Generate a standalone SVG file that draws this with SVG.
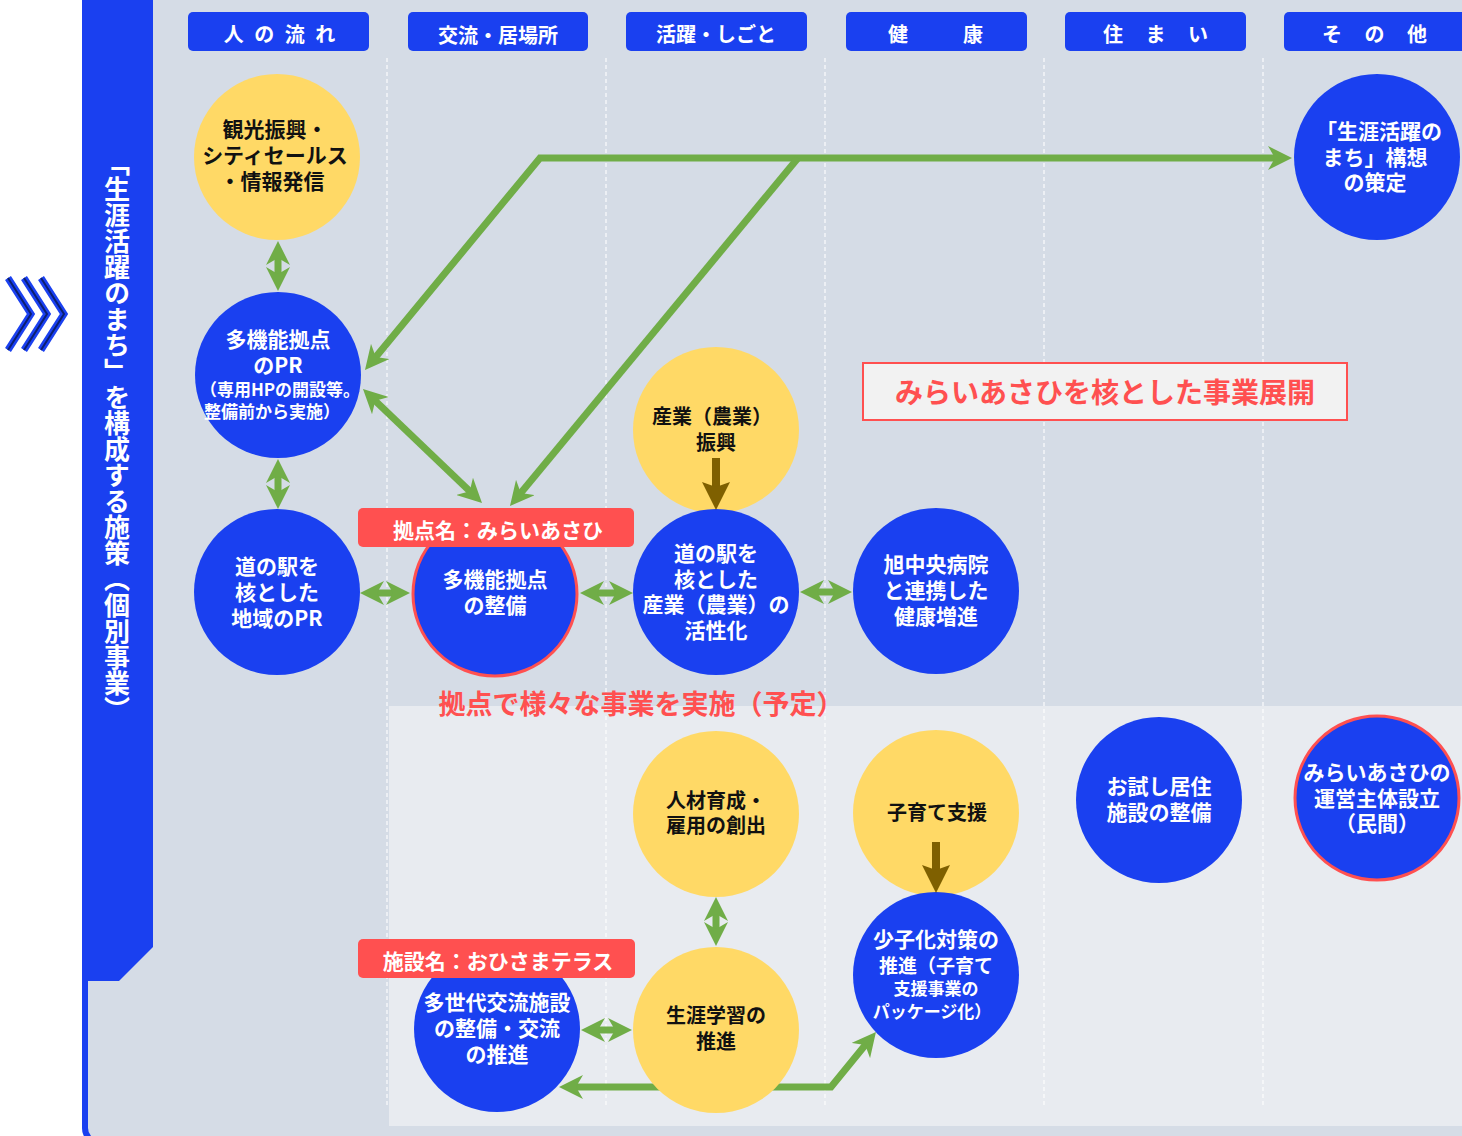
<svg xmlns="http://www.w3.org/2000/svg" width="1462" height="1136" viewBox="0 0 1462 1136">
<style>
.t{font-family:'Noto Sans CJK JP','Noto Sans',sans-serif;font-weight:700;text-anchor:middle;dominant-baseline:central}
.w{fill:#ffffff}
.k{fill:#111111}
.r{fill:#FF5050}
.blue{fill:#1A40F0}
.yel{fill:#FFD966}
.hdr{fill:#1A40F0}
.div{stroke:#ffffff;stroke-width:1.2;stroke-dasharray:4 3;fill:none;opacity:0.9}
.g{stroke:#70AD47;stroke-width:7;fill:none;stroke-linejoin:miter}
.gd{stroke:#70AD47;stroke-width:7;fill:none;marker-start:url(#ga);marker-end:url(#ga)}
.br{stroke:#7F6000;stroke-width:8;fill:none;marker-end:url(#ba)}
</style>
<defs>
<marker id="ga" viewBox="0 0 24 24" refX="10" refY="12" markerWidth="24" markerHeight="24" markerUnits="userSpaceOnUse" orient="auto-start-reverse">
<path d="M0,0 L24,12 L0,24 L7,12 z" fill="#70AD47"/>
</marker>
<marker id="ba" viewBox="0 0 28 28" refX="12" refY="14" markerWidth="28" markerHeight="28" markerUnits="userSpaceOnUse" orient="auto">
<path d="M0,0 L28,14 L0,28 L5,14 z" fill="#7F6000"/>
</marker>
</defs>
<rect x="0" y="0" width="1462" height="1136" fill="#ffffff"/>
<!-- frame -->
<rect x="82" y="-30" width="1420" height="1176" rx="18" fill="#1A40F0"/>
<rect x="88" y="-30" width="1420" height="1170" rx="12" fill="#D5DCE6"/>
<path d="M82,0 L153,0 L153,947 L119,981 L82,981 z" fill="#1A40F0"/>
<text class="t w" x="117" y="150" font-size="26" writing-mode="vertical-rl" style="text-anchor:start;dominant-baseline:central">「生涯活躍のまち」を構成する施策（個別事業）</text>
<!-- chevrons -->
<g id="chevrons" fill="none" stroke-linejoin="miter">
<polyline points="8,278 31,314 8,350" stroke="#1A40F0" stroke-width="7"/>
<polyline points="24,278 47,314 24,350" stroke="#1A40F0" stroke-width="7"/>
<polyline points="41,278 64,314 41,350" stroke="#1A40F0" stroke-width="7"/>
<polyline points="8,278 31,314 8,350" stroke="#0B1F70" stroke-width="2"/>
<polyline points="24,278 47,314 24,350" stroke="#0B1F70" stroke-width="2"/>
<polyline points="41,278 64,314 41,350" stroke="#0B1F70" stroke-width="2"/>
</g>
<!-- lower panel -->
<rect x="389" y="706" width="1080" height="420" fill="#E8EBF0"/>
<!-- dividers -->
<g id="dividers">
<line class="div" x1="387" y1="58" x2="387" y2="1108"/>
<line class="div" x1="606" y1="58" x2="606" y2="1108"/>
<line class="div" x1="825" y1="58" x2="825" y2="1108"/>
<line class="div" x1="1044" y1="58" x2="1044" y2="1108"/>
<line class="div" x1="1263" y1="58" x2="1263" y2="1108"/>
</g>
<!-- headers -->
<g id="headers">
<rect class="hdr" x="188" y="12" width="181" height="39" rx="5"/>
<rect class="hdr" x="408" y="12" width="180" height="39" rx="5"/>
<rect class="hdr" x="626" y="12" width="181" height="39" rx="5"/>
<rect class="hdr" x="846" y="12" width="181" height="39" rx="5"/>
<rect class="hdr" x="1065" y="12" width="181" height="39" rx="5"/>
<rect class="hdr" x="1284" y="12" width="190" height="39" rx="5"/>
<text class="t w" x="281" y="33" font-size="20" letter-spacing="3">人 の 流 れ</text>
<text class="t w" x="498" y="34" font-size="20">交流・居場所</text>
<text class="t w" x="716" y="33" font-size="20">活躍・しごと</text>
<text class="t w" x="938" y="33" font-size="20" letter-spacing="5">健　　康</text>
<text class="t w" x="1160" y="33" font-size="20" letter-spacing="9">住 ま い</text>
<text class="t w" x="1379" y="33" font-size="20" letter-spacing="9">そ の 他</text>
</g>
<!-- connectors -->
<g id="connectors">
<path class="gd" d="M373.9,359.2 L540,158 L1278,158"/>
<path class="g" d="M798,158 L518.9,495.2" marker-end="url(#ga)"/>
<line class="gd" x1="373.1" y1="398.7" x2="471.9" y2="493.3"/>
<line class="gd" x1="278" y1="255" x2="278" y2="277"/>
<line class="gd" x1="278" y1="473" x2="278" y2="495"/>
<line class="gd" x1="374" y1="593" x2="396" y2="593"/>
<line class="gd" x1="594" y1="593" x2="619" y2="593"/>
<line class="gd" x1="814" y1="592" x2="838" y2="592"/>
<line class="gd" x1="716" y1="911" x2="716" y2="932"/>
<line class="gd" x1="595" y1="1030" x2="618" y2="1030"/>
<path class="gd" d="M573,1087 L831,1087 L867.1,1042.8"/>
</g>
<!-- nodes -->
<g id="n-kanko"><circle class="yel" cx="277" cy="157" r="83"/>
<text class="t k" x="275" y="128" font-size="21">観光振興・</text>
<text class="t k" x="275" y="154" font-size="21">シティセールス</text>
<text class="t k" x="272" y="180" font-size="21">・情報発信</text></g>
<g id="n-pr"><circle class="blue" cx="278" cy="375" r="83"/>
<text class="t w" x="278" y="338" font-size="21">多機能拠点</text>
<text class="t w" x="278" y="364" font-size="21">のPR</text>
<text class="t w" x="280" y="388" font-size="17">（専用HPの開設等。</text>
<text class="t w" x="272" y="410" font-size="17">整備前から実施）</text></g>
<g id="n-michi-pr"><circle class="blue" cx="277" cy="592" r="83"/>
<text class="t w" x="277" y="565" font-size="21">道の駅を</text>
<text class="t w" x="277" y="591" font-size="21">核とした</text>
<text class="t w" x="277" y="617" font-size="21">地域のPR</text></g>
<g id="n-kyoten"><circle class="blue" cx="495" cy="594" r="82" stroke="#FF5050" stroke-width="3"/>
<text class="t w" x="495" y="578" font-size="21">多機能拠点</text>
<text class="t w" x="495" y="604" font-size="21">の整備</text></g>
<g id="l-kyoten"><rect x="358" y="508" width="276" height="39" rx="5" fill="#FF5050"/>
<text class="t w" x="498" y="529" font-size="21">拠点名：みらいあさひ</text></g>
<g id="n-sangyo"><circle class="yel" cx="716" cy="430" r="83"/>
<text class="t k" x="712" y="415" font-size="20">産業（農業）</text>
<text class="t k" x="716" y="441" font-size="20">振興</text></g>
<g id="n-michi-sangyo"><circle class="blue" cx="716" cy="592" r="83"/>
<text class="t w" x="716" y="552" font-size="21">道の駅を</text>
<text class="t w" x="716" y="578" font-size="21">核とした</text>
<text class="t w" x="716" y="603" font-size="21">産業（農業）の</text>
<text class="t w" x="716" y="629" font-size="21">活性化</text></g>
<g id="n-byoin"><circle class="blue" cx="936" cy="591" r="83"/>
<text class="t w" x="936" y="563" font-size="21">旭中央病院</text>
<text class="t w" x="936" y="589" font-size="21">と連携した</text>
<text class="t w" x="936" y="615" font-size="21">健康増進</text></g>
<g id="n-koso"><circle class="blue" cx="1377" cy="157" r="83"/>
<text class="t w" x="1379" y="130" font-size="21">「生涯活躍の</text>
<text class="t w" x="1375" y="156" font-size="21">まち」構想</text>
<text class="t w" x="1375" y="181" font-size="21">の策定</text></g>
<g id="l-tenkai"><rect x="863" y="363" width="484" height="57" fill="#F2F2F2" stroke="#FF5050" stroke-width="2"/>
<text class="t r" x="1105" y="391" font-size="28">みらいあさひを核とした事業展開</text></g>
<text class="t r" x="641" y="702" font-size="27">拠点で様々な事業を実施（予定）</text>
<g id="n-jinzai"><circle class="yel" cx="716" cy="814" r="83"/>
<text class="t k" x="716" y="799" font-size="20">人材育成・</text>
<text class="t k" x="716" y="824" font-size="20">雇用の創出</text></g>
<g id="n-kosodate"><circle class="yel" cx="936" cy="813" r="83"/>
<text class="t k" x="937" y="811" font-size="20">子育て支援</text></g>
<g id="n-shogai"><circle class="yel" cx="716" cy="1030" r="83"/>
<text class="t k" x="716" y="1014" font-size="20">生涯学習の</text>
<text class="t k" x="716" y="1040" font-size="20">推進</text></g>
<g id="n-shoshika"><circle class="blue" cx="936" cy="975" r="83"/>
<text class="t w" x="936" y="938" font-size="21">少子化対策の</text>
<text class="t w" x="936" y="964" font-size="19">推進（子育て</text>
<text class="t w" x="936" y="987" font-size="17">支援事業の</text>
<text class="t w" x="932" y="1010" font-size="17">パッケージ化）</text></g>
<g id="n-tasedai"><circle class="blue" cx="497" cy="1029" r="83"/>
<text class="t w" x="497" y="1001" font-size="21">多世代交流施設</text>
<text class="t w" x="497" y="1027" font-size="21">の整備・交流</text>
<text class="t w" x="497" y="1053" font-size="21">の推進</text></g>
<g id="l-tasedai"><rect x="358" y="939" width="277" height="39" rx="5" fill="#FF5050"/>
<text class="t w" x="498" y="960" font-size="21">施設名：おひさまテラス</text></g>
<g id="n-otameshi"><circle class="blue" cx="1159" cy="800" r="83"/>
<text class="t w" x="1159" y="785" font-size="21">お試し居住</text>
<text class="t w" x="1159" y="811" font-size="21">施設の整備</text></g>
<g id="n-unei"><circle class="blue" cx="1377" cy="798" r="82" stroke="#FF5050" stroke-width="3"/>
<text class="t w" x="1377" y="771" font-size="21">みらいあさひの</text>
<text class="t w" x="1377" y="797" font-size="21">運営主体設立</text>
<text class="t w" x="1377" y="822" font-size="21">（民間）</text></g>
<!-- brown arrows -->
<g id="brown-connectors">
<line class="br" x1="716" y1="458" x2="716" y2="494"/>
<line class="br" x1="936" y1="842" x2="936" y2="877"/>
</g>
</svg>
